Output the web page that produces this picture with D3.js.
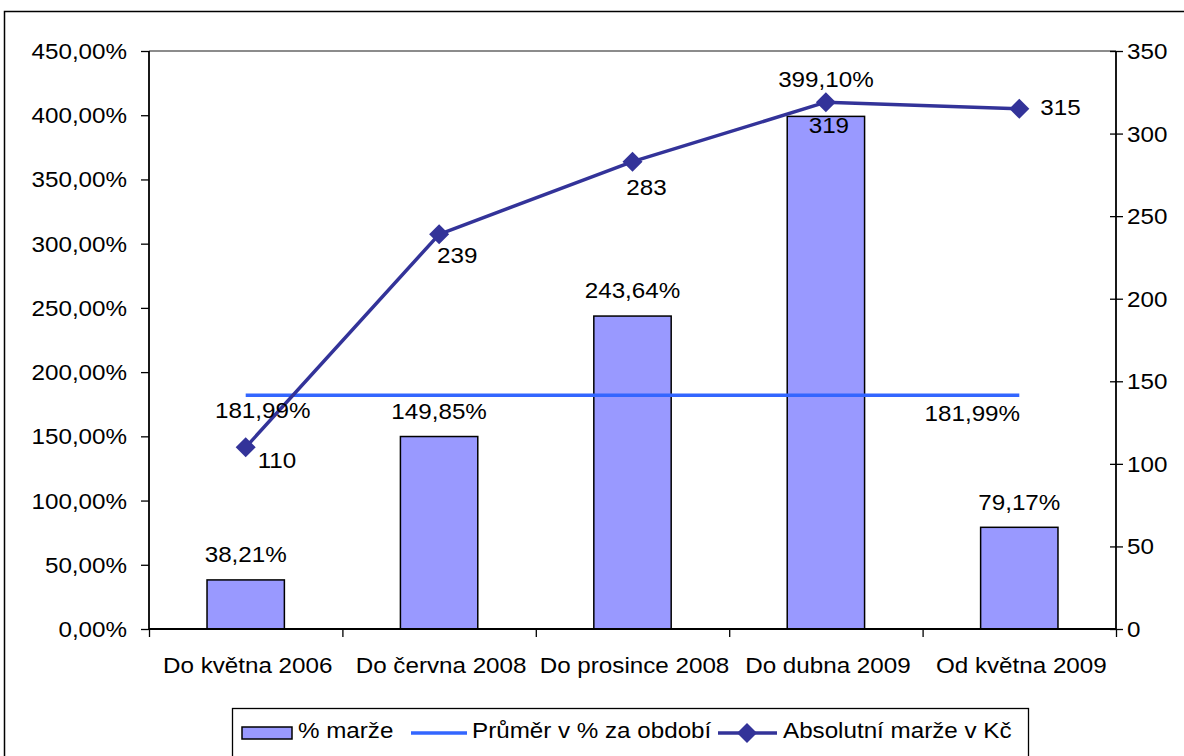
<!DOCTYPE html>
<html><head><meta charset="utf-8">
<script src="https://cdn.jsdelivr.net/npm/d3@7"></script>
<style>
html,body{margin:0;padding:0;background:#fff;}
svg{display:block;}
text{font-family:"Liberation Sans",Arial,sans-serif;font-size:22px;fill:#000;}
</style></head>
<body>
<svg id="c" width="1184" height="756"></svg>
<script>
// ---- data ----
const categories = ["Do května 2006","Do června 2008","Do prosince 2008","Do dubna 2009","Od května 2009"];
const marzePct = [38.21, 149.85, 243.64, 399.10, 79.17];
const prumerPct = [181.99, 181.99, 181.99, 181.99, 181.99];
const absolutniKc = [110, 239, 283, 319, 315];
const leftTicks = [0,50,100,150,200,250,300,350,400,450];
const rightTicks = [0,50,100,150,200,250,300,350];
const seriesNames = ["% marže","Průměr v % za období","Absolutní marže v Kč"];

// ---- label placement (style) ----
const barLabelDy = [-18,-18,-18,-29,-17];
const lineLabelOff = [[12,21,"start"],[-2,29,"start"],[14,33,"middle"],[3,31,"middle"],[21,6,"start"]];
const avgLabelIdx = [0,4];
const avgLabelOff = [[17,23],[-47,26]];

const SX = 1.1;
const loc = d3.formatLocale({decimal:",",thousands:" ",grouping:[3],currency:["","Kč"]});
const fPct = v => loc.format(".2f")(v) + "%";

const svg = d3.select("#c");
function txt(g, x, y, s, anchor){
  return g.append("text").attr("transform",`translate(${x},${y}) scale(${SX},1)`)
    .attr("text-anchor",anchor||"middle").text(s);
}

// outer chart border
svg.append("rect").attr("x",4.5).attr("y",11.5).attr("width",1300).attr("height",900)
  .attr("fill","none").attr("stroke","#000").attr("stroke-width",1.5);

const L=149, R=1116, T=51, B=629;
const x = d3.scaleBand().domain(categories).range([L,R]).paddingInner(0).paddingOuter(0);
const yL = d3.scaleLinear().domain([0,450]).range([B,T]);
const yR = d3.scaleLinear().domain([0,350]).range([B,T]);
const cx = c => x(c) + x.bandwidth()/2;

// plot area top border (gray)
svg.append("line").attr("x1",L).attr("x2",R).attr("y1",T).attr("y2",T)
  .attr("stroke","#8c8c8c").attr("stroke-width",2);

// bars
const bw = x.bandwidth()*0.4;
svg.append("g").selectAll("rect").data(marzePct).join("rect")
  .attr("x",(d,i)=>cx(categories[i])-bw/2).attr("width",bw)
  .attr("y",d=>yL(d)).attr("height",d=>B-yL(d))
  .attr("fill","#9999ff").attr("stroke","#000").attr("stroke-width",1.5);

// average line
const avgLine = d3.line().x((d,i)=>cx(categories[i])).y(d=>yL(d));
svg.append("path").attr("d",avgLine(prumerPct)).attr("fill","none")
  .attr("stroke","#3366ff").attr("stroke-width",3.5);

// absolute line
const absLine = d3.line().x((d,i)=>cx(categories[i])).y(d=>yR(d));
svg.append("path").attr("d",absLine(absolutniKc)).attr("fill","none")
  .attr("stroke","#333399").attr("stroke-width",3.5).attr("stroke-linejoin","round");
const diamond = d3.symbol().type(d3.symbolSquare).size(200);
svg.append("g").selectAll("path").data(absolutniKc).join("path")
  .attr("d",diamond)
  .attr("transform",(d,i)=>`translate(${cx(categories[i])},${yR(d)}) rotate(45)`)
  .attr("fill","#333399");

// axes
const gL = svg.append("g").attr("transform",`translate(${L},0)`)
  .call(d3.axisLeft(yL).tickValues(leftTicks).tickSize(8).tickFormat(""));
const gR = svg.append("g").attr("transform",`translate(${R},0)`)
  .call(d3.axisRight(yR).tickValues(rightTicks).tickSize(7).tickFormat(""));
gR.selectAll(".tick line").attr("x1",-6);
const boundaries = d3.range(categories.length+1).map(i=>L+i*x.bandwidth());
const xb = d3.scaleLinear().domain([L,R]).range([L,R]);
const gB = svg.append("g").attr("transform",`translate(0,${B})`)
  .call(d3.axisBottom(xb).tickValues(boundaries).tickSize(8).tickFormat(""));
[gL,gR,gB].forEach(g=>{
  g.selectAll(".domain").attr("stroke","#000").attr("stroke-width",1.8);
  g.selectAll(".tick line").attr("stroke","#000").attr("stroke-width",1.3);
});
gL.select(".domain").attr("d",`M0,${B}V${T}`);
gR.select(".domain").attr("d",`M0,${B}V${T}`);
gB.select(".domain").attr("d",`M${L},0H${R}`);

// tick labels
const lab = svg.append("g");
leftTicks.forEach(t=>txt(lab,127,yL(t)+8,fPct(t),"end"));
rightTicks.forEach(t=>txt(lab,1127,yR(t)+8,String(t),"start"));
categories.forEach(c=>txt(lab,cx(c)+2,673,c,"middle"));

// data labels
marzePct.forEach((v,i)=>txt(lab,cx(categories[i]),yL(v)+barLabelDy[i],fPct(v),"middle"));
avgLabelIdx.forEach((idx,k)=>txt(lab,cx(categories[idx])+avgLabelOff[k][0],yL(prumerPct[idx])+avgLabelOff[k][1],fPct(prumerPct[idx]),"middle"));
absolutniKc.forEach((v,i)=>{
  const o=lineLabelOff[i];
  txt(lab,cx(categories[i])+o[0],yR(v)+o[1],String(v),o[2]);
});

// legend
const lg = svg.append("g");
lg.append("rect").attr("x",232.5).attr("y",708.5).attr("width",796).attr("height",80)
  .attr("fill","#fff").attr("stroke","#000").attr("stroke-width",1.3);
lg.append("rect").attr("x",242).attr("y",727).attr("width",50).attr("height",12)
  .attr("fill","#9999ff").attr("stroke","#000").attr("stroke-width",1.5);
txt(lg,298,738,seriesNames[0],"start");
lg.append("line").attr("x1",411).attr("x2",467).attr("y1",733).attr("y2",733)
  .attr("stroke","#3366ff").attr("stroke-width",3.5);
txt(lg,472,738,seriesNames[1],"start");
lg.append("line").attr("x1",718).attr("x2",777).attr("y1",733).attr("y2",733)
  .attr("stroke","#333399").attr("stroke-width",3.5);
lg.append("path").attr("d",diamond).attr("transform","translate(747,733) rotate(45)").attr("fill","#333399");
txt(lg,783,738,seriesNames[2],"start");
</script>
</body></html>
